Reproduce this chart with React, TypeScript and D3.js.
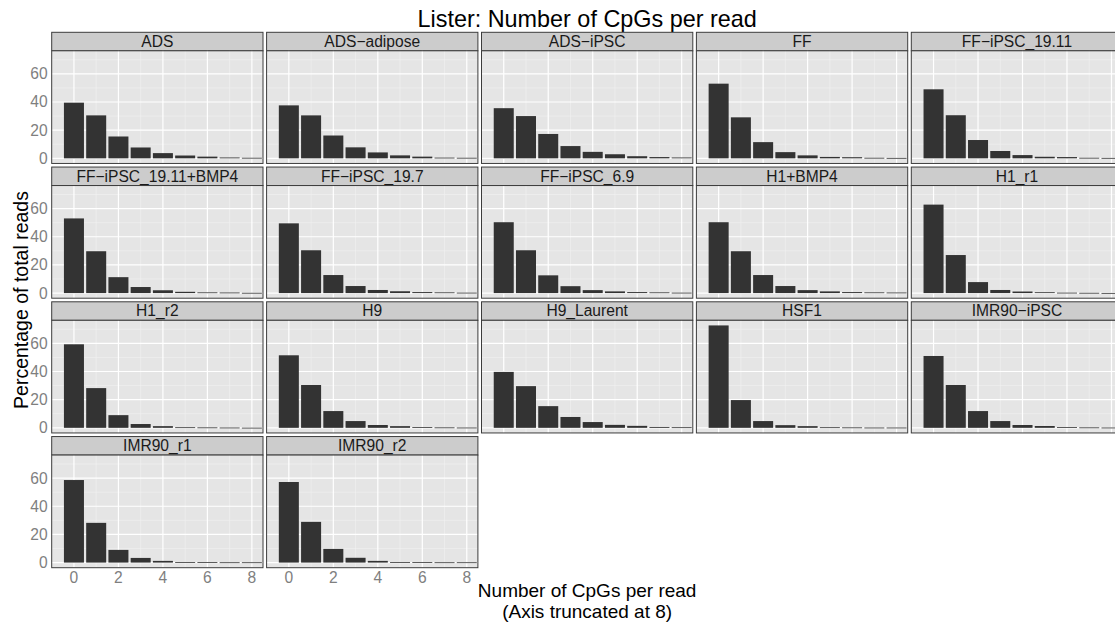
import React from "react";
import * as d3 from "d3";

// ---------- data ----------
const cpgCounts = [0, 1, 2, 3, 4, 5, 6, 7, 8];
const xTickValues = [0, 2, 4, 6, 8];
const yTickValues = [0, 20, 40, 60];

const sampleNames = [
  "ADS",
  "ADS\u2212adipose",
  "ADS\u2212iPSC",
  "FF",
  "FF\u2212iPSC_19.11",
  "FF\u2212iPSC_19.11+BMP4",
  "FF\u2212iPSC_19.7",
  "FF\u2212iPSC_6.9",
  "H1+BMP4",
  "H1_r1",
  "H1_r2",
  "H9",
  "H9_Laurent",
  "HSF1",
  "IMR90\u2212iPSC",
  "IMR90_r1",
  "IMR90_r2",
];

const ADS = [39.5, 30.5, 15.5, 7.7, 3.7, 2.0, 1.2, 0.6, 0.4];
const ADS_adipose = [37.6, 30.5, 16.2, 7.8, 4.2, 2.1, 1.2, 0.5, 0.4];
const ADS_iPSC = [35.6, 30.0, 17.3, 8.7, 4.6, 2.9, 1.5, 0.9, 0.6];
const FF = [53.0, 29.1, 11.5, 4.4, 2.1, 1.0, 0.8, 0.4, 0.3];
const FF_iPSC_19_11 = [49.0, 30.6, 13.0, 5.2, 2.3, 1.1, 0.9, 0.4, 0.3];
const FF_iPSC_19_11_BMP4 = [53.0, 29.7, 11.3, 4.3, 2.0, 0.9, 0.5, 0.4, 0.2];
const FF_iPSC_19_7 = [49.5, 30.4, 12.8, 5.0, 2.2, 1.3, 0.7, 0.5, 0.3];
const FF_iPSC_6_9 = [50.3, 30.4, 12.6, 4.9, 2.1, 1.2, 0.7, 0.5, 0.3];
const H1_BMP4 = [50.3, 29.7, 12.8, 5.0, 2.1, 1.2, 0.7, 0.5, 0.4];
const H1_r1 = [62.8, 27.0, 7.8, 2.2, 1.1, 0.6, 0.3, 0.2, 0.1];
const H1_r2 = [59.3, 28.2, 9.0, 2.7, 1.2, 0.4, 0.3, 0.2, 0.1];
const H9 = [51.5, 30.4, 11.9, 4.8, 2.0, 1.2, 0.5, 0.3, 0.2];
const H9_Laurent = [39.7, 29.6, 15.4, 7.7, 4.1, 2.1, 1.4, 0.6, 0.4];
const HSF1 = [72.7, 19.7, 4.8, 1.9, 1.2, 0.4, 0.3, 0.2, 0.2];
const IMR90_iPSC = [51.0, 30.4, 11.9, 4.8, 2.0, 1.3, 0.5, 0.3, 0.2];
const IMR90_r1 = [58.6, 28.2, 9.0, 3.3, 1.2, 0.4, 0.3, 0.2, 0.2];
const IMR90_r2 = [57.2, 28.9, 9.7, 3.4, 1.2, 0.4, 0.3, 0.2, 0.2];

const sampleValues = [
  ADS,
  ADS_adipose,
  ADS_iPSC,
  FF,
  FF_iPSC_19_11,
  FF_iPSC_19_11_BMP4,
  FF_iPSC_19_7,
  FF_iPSC_6_9,
  H1_BMP4,
  H1_r1,
  H1_r2,
  H9,
  H9_Laurent,
  HSF1,
  IMR90_iPSC,
  IMR90_r1,
  IMR90_r2,
];

const titleText = "Lister: Number of CpGs per read";
const xTitle1 = "Number of CpGs per read";
const xTitle2 = "(Axis truncated at 8)";
const yTitle = "Percentage of total reads";

// ---------- layout ----------
const W = 1115;
const H = 626;
const NCOL = 5;
const NROW = 4;
const left = 51.7;
const top = 32.3;
const bottom = 567.7;
const gap = 3.6;
const panelW = 211.3;
const stripH = 18.5;
const rowH = (bottom - top - (NROW - 1) * gap) / NROW;
const panelH = rowH - stripH;
const plotRight = left + NCOL * panelW + (NCOL - 1) * gap;
const centerX = (left + plotRight) / 2;
const font = "'Liberation Sans', Arial, Helvetica, sans-serif";

export default function App() {
  const maxV = d3.max(sampleValues.flat()) as number;
  const x = d3.scaleLinear().domain([-1, 8.5]).range([0, panelW]);
  const y = d3
    .scaleLinear()
    .domain([-0.05 * maxV, 1.05 * maxV])
    .range([panelH, 0]);
  const xMinor = [-1, 1, 3, 5, 7];
  const yMinor = [10, 30, 50, 70];
  const barW = 0.9;

  return (
    <div>
      <style>{`body{margin:0}`}</style>
      <svg width={W} height={H} style={{ display: "block", overflow: "hidden" }} fontFamily={font}>
        <rect x={0} y={0} width={W} height={H} fill="#ffffff" />
        <text x={centerX} y={27} textAnchor="middle" fontSize={23.4} fill="#000">
          {titleText}
        </text>
        {sampleNames.map((name, idx) => {
          const col = idx % NCOL;
          const row = Math.floor(idx / NCOL);
          const px = left + col * (panelW + gap);
          const sy = top + row * (rowH + gap);
          const py = sy + stripH;
          const vals = sampleValues[idx];
          const isBottom = idx + NCOL >= sampleNames.length && row === NROW - 1;
          return (
            <g key={name}>
              <rect x={px} y={sy} width={panelW} height={stripH} fill="#cccccc" stroke="#3c3c3c" strokeWidth={1} />
              <text x={px + panelW / 2} y={sy + stripH / 2 + 5.4} textAnchor="middle" fontSize={15.6} fill="#1a1a1a">
                {name}
              </text>
              <g transform={`translate(${px},${py})`}>
                <rect x={0} y={0} width={panelW} height={panelH} fill="#e5e5e5" />
                {yMinor.map((v) => (
                  <line key={"ym" + v} x1={0} x2={panelW} y1={y(v)} y2={y(v)} stroke="#f2f2f2" strokeWidth={0.6} />
                ))}
                {xMinor.map((v) => (
                  <line key={"xm" + v} x1={x(v)} x2={x(v)} y1={0} y2={panelH} stroke="#f2f2f2" strokeWidth={0.6} />
                ))}
                {yTickValues.map((v) => (
                  <line key={"yM" + v} x1={0} x2={panelW} y1={y(v)} y2={y(v)} stroke="#ffffff" strokeWidth={1.2} />
                ))}
                {xTickValues.map((v) => (
                  <line key={"xM" + v} x1={x(v)} x2={x(v)} y1={0} y2={panelH} stroke="#ffffff" strokeWidth={1.2} />
                ))}
                {cpgCounts.map((c, i) => (
                  <rect
                    key={c}
                    x={x(c - barW / 2)}
                    y={y(vals[i])}
                    width={x(c + barW / 2) - x(c - barW / 2)}
                    height={Math.max(0.8, y(0) - y(vals[i]))}
                    fill="#333333"
                  />
                ))}
                <rect x={0} y={0} width={panelW} height={panelH} fill="none" stroke="#3c3c3c" strokeWidth={1} />
              </g>
              {col === 0 &&
                yTickValues.map((v) => (
                  <text key={"yt" + v} x={px - 4} y={py + y(v) + 5.5} textAnchor="end" fontSize={15.6} fill="#7f7f7f">
                    {v}
                  </text>
                ))}
              {isBottom &&
                xTickValues.map((v) => (
                  <text key={"xt" + v} x={px + x(v)} y={py + panelH + 15} textAnchor="middle" fontSize={15.6} fill="#7f7f7f">
                    {v}
                  </text>
                ))}
            </g>
          );
        })}
        <text x={centerX} y={597} textAnchor="middle" fontSize={19} fill="#000">
          {xTitle1}
        </text>
        <text x={centerX} y={617.5} textAnchor="middle" fontSize={19} fill="#000">
          {xTitle2}
        </text>
        <text
          transform={`translate(27.5,${(top + bottom) / 2}) rotate(-90)`}
          textAnchor="middle"
          fontSize={19.5}
          fill="#000"
        >
          {yTitle}
        </text>
      </svg>
    </div>
  );
}
